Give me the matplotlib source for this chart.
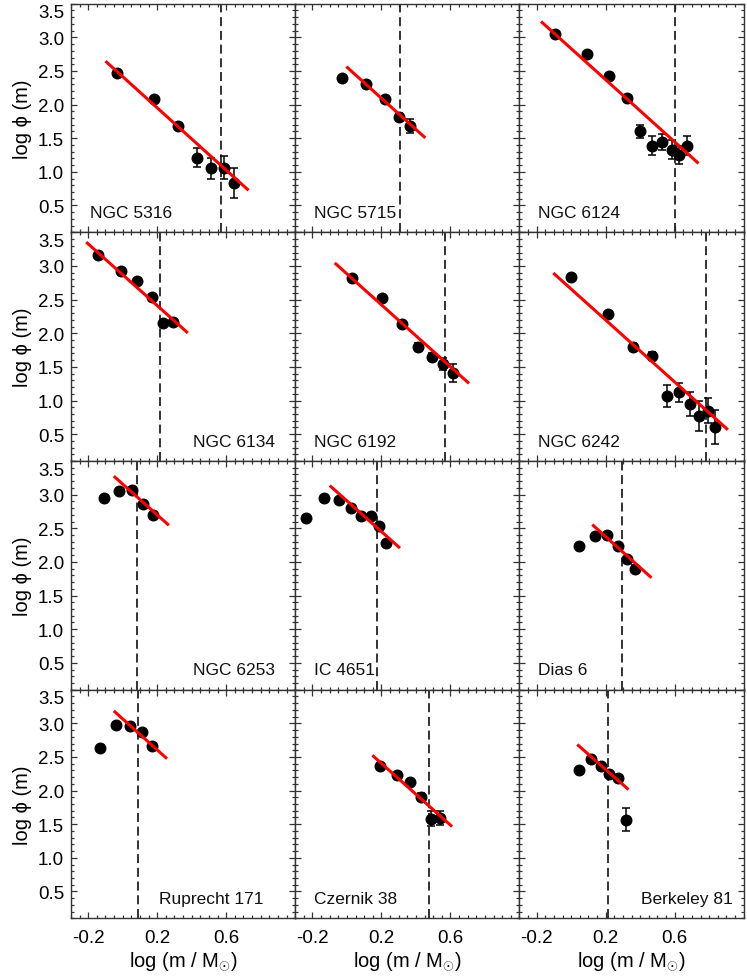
import matplotlib
matplotlib.use('Agg')
import matplotlib.pyplot as plt
import matplotlib.transforms as mtransforms
from matplotlib.ticker import MultipleLocator, FixedLocator
import numpy as np

plt.rcParams['font.family'] = ['Liberation Sans', 'DejaVu Sans']
plt.rcParams['mathtext.fontset'] = 'custom'
plt.rcParams['mathtext.rm'] = 'Liberation Sans'
plt.rcParams['mathtext.it'] = 'Liberation Sans'
plt.rcParams['axes.unicode_minus'] = False

# cluster names, row by row
names = ['NGC 5316', 'NGC 5715', 'NGC 6124',
         'NGC 6134', 'NGC 6192', 'NGC 6242',
         'NGC 6253', 'IC 4651', 'Dias 6',
         'Ruprecht 171', 'Czernik 38', 'Berkeley 81']

# log(m/Msun) of the mass bins
logm = [[-0.031, 0.182, 0.323, 0.430, 0.513, 0.588, 0.646],
        [-0.026, 0.112, 0.218, 0.299, 0.368],
        [-0.091, 0.094, 0.222, 0.323, 0.401, 0.471, 0.529, 0.583, 0.626, 0.670],
        [-0.145, -0.012, 0.083, 0.170, 0.236, 0.292],
        [0.032, 0.203, 0.322, 0.413, 0.492, 0.558, 0.616],
        [-0.002, 0.214, 0.359, 0.469, 0.554, 0.626, 0.690, 0.743, 0.792, 0.834],
        [-0.110, -0.021, 0.054, 0.120, 0.176],
        [-0.238, -0.132, -0.045, 0.023, 0.083, 0.141, 0.187, 0.229],
        [0.048, 0.139, 0.210, 0.270, 0.323, 0.372],
        [-0.132, -0.037, 0.044, 0.110, 0.168],
        [0.193, 0.290, 0.365, 0.430, 0.487, 0.537],
        [0.048, 0.114, 0.174, 0.222, 0.274, 0.317]]

# log phi(m)
logphi = [[2.47, 2.09, 1.68, 1.21, 1.05, 1.06, 0.83],
          [2.40, 2.31, 2.09, 1.81, 1.68],
          [3.05, 2.75, 2.43, 2.10, 1.60, 1.39, 1.45, 1.33, 1.25, 1.39],
          [3.16, 2.93, 2.78, 2.54, 2.15, 2.17],
          [2.82, 2.53, 2.14, 1.80, 1.65, 1.54, 1.41],
          [2.84, 2.28, 1.80, 1.66, 1.07, 1.12, 0.95, 0.77, 0.85, 0.61],
          [2.95, 3.06, 3.07, 2.86, 2.70],
          [2.65, 2.95, 2.92, 2.80, 2.68, 2.68, 2.53, 2.28],
          [2.23, 2.38, 2.40, 2.23, 2.04, 1.90],
          [2.64, 2.97, 2.96, 2.87, 2.66],
          [2.37, 2.23, 2.13, 1.91, 1.58, 1.59],
          [2.31, 2.47, 2.36, 2.24, 2.18, 1.57]]

# errors on log phi
err = [[0.02, 0.03, 0.05, 0.14, 0.16, 0.17, 0.22],
       [0.02, 0.03, 0.04, 0.06, 0.10],
       [0.01, 0.02, 0.03, 0.04, 0.10, 0.14, 0.12, 0.14, 0.14, 0.14],
       [0.01, 0.02, 0.02, 0.03, 0.04, 0.04],
       [0.02, 0.03, 0.04, 0.05, 0.06, 0.09, 0.13],
       [0.02, 0.03, 0.05, 0.06, 0.16, 0.14, 0.18, 0.22, 0.19, 0.25],
       [0.01, 0.01, 0.01, 0.02, 0.02],
       [0.02, 0.01, 0.01, 0.01, 0.02, 0.02, 0.02, 0.03],
       [0.02, 0.02, 0.02, 0.03, 0.04, 0.05],
       [0.02, 0.01, 0.01, 0.02, 0.02],
       [0.02, 0.03, 0.03, 0.05, 0.11, 0.10],
       [0.02, 0.02, 0.02, 0.03, 0.03, 0.17]]

# mass limit (dashed line)
mlim = [0.569, 0.309, 0.603, 0.215, 0.570, 0.781,
        0.081, 0.174, 0.297, 0.087, 0.477, 0.212]

# linear fits: log phi = a + b log m, drawn over [fit_lo, fit_hi]
fit_a = [2.415, 2.557, 2.832, 2.870, 2.883, 2.657,
         3.157, 2.908, 2.837, 3.066, 2.863, 2.765]
fit_b = [-2.316, -2.315, -2.311, -2.292, -2.301, -2.302,
         -2.288, -2.284, -2.303, -2.305, -2.294, -2.254]
fit_lo = [-0.093, 0.003, -0.168, -0.205, -0.064, -0.097,
          -0.045, -0.093, 0.129, -0.045, 0.154, 0.042]
fit_hi = [0.723, 0.448, 0.732, 0.371, 0.701, 0.902,
          0.261, 0.301, 0.459, 0.250, 0.603, 0.326]

# where the name goes (data coords)
lab_x = [-0.19, -0.19, -0.19, 0.41, -0.19, -0.19,
         0.41, -0.19, -0.19, 0.21, -0.19, 0.405]
lab_y = 0.33

fig, axes = plt.subplots(nrows=4, ncols=3, sharex=True, sharey=True,
                         figsize=(7.47, 9.79), dpi=100)
fig.subplots_adjust(left=0.095, right=0.9955, top=0.9952, bottom=0.0609,
                    wspace=0, hspace=0)

for i, ax in enumerate(axes.flat):
    ax.errorbar(logm[i], logphi[i], yerr=err[i], fmt='o', color='black',
                ms=7.6, elinewidth=1.1, capsize=3.2, capthick=1.1, zorder=3)
    xf = np.array([fit_lo[i], fit_hi[i]])
    ax.plot(xf, fit_a[i] + fit_b[i] * xf, color='red', lw=2.2, zorder=4)
    ax.axvline(mlim[i], color='#222222', lw=1.3, dashes=(5, 2.6), zorder=2)
    ax.text(lab_x[i], lab_y, names[i], fontsize=12.5, ha='left', va='baseline',
            color='#111111')

    ax.set_xlim(-0.3, 1.0)
    ax.set_ylim(0.1, 3.5)
    ax.xaxis.set_major_locator(FixedLocator([-0.2, 0.2, 0.6]))
    ax.xaxis.set_minor_locator(MultipleLocator(0.05))
    ax.yaxis.set_major_locator(FixedLocator([0.5, 1.0, 1.5, 2.0, 2.5, 3.0, 3.5]))
    ax.yaxis.set_minor_locator(MultipleLocator(0.1))
    ax.tick_params(which='both', direction='in', top=True, right=True,
                   color='#333333', width=0.9, labelsize=13.5)
    ax.tick_params(axis='x', which='major', length=4.5, pad=8)
    ax.tick_params(axis='x', which='minor', length=2.5)
    ax.tick_params(axis='y', which='major', length=4.5, pad=5)
    ax.tick_params(axis='y', which='minor', length=2.5)
    for sp in ax.spines.values():
        sp.set_color('#333333')
        sp.set_linewidth(1.0)

for ax in axes[:, 0]:
    ax.set_ylabel('log ϕ (m)', fontsize=14.5, labelpad=4)
    ax.yaxis.set_major_formatter(plt.FuncFormatter(lambda v, p: '%.1f' % v))
for ax in axes[-1, :]:
    ax.set_xlabel(r'log (m / M$_{\odot}$)', fontsize=14.5, labelpad=2)
    ax.xaxis.set_major_formatter(plt.FuncFormatter(lambda v, p: '%.1f' % v))

# the top "3.5" label sits a bit below its tick, as in the original
fig.canvas.draw()
shift = mtransforms.ScaledTranslation(0, -7 / 100, fig.dpi_scale_trans)
for ax in axes[:, 0]:
    ticks = ax.yaxis.get_major_ticks()
    ticks[-1].label1.set_transform(ticks[-1].label1.get_transform() + shift)

plt.savefig('out.png', dpi=100)
